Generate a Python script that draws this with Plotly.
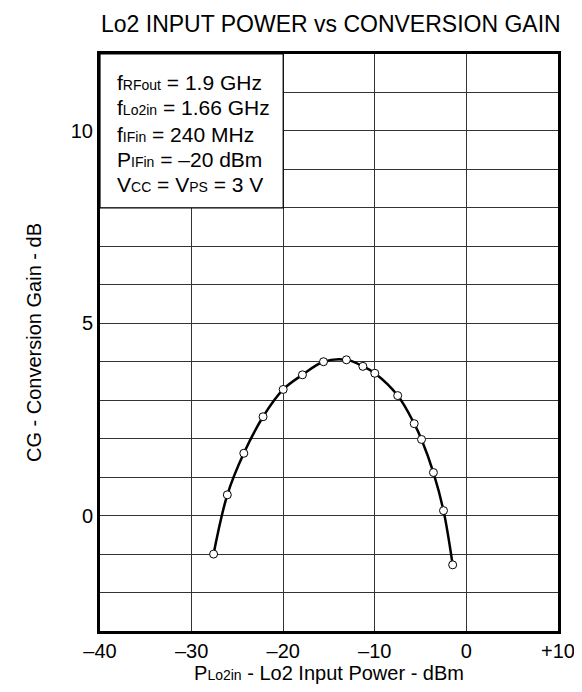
import plotly.graph_objects as go

# ---- data ----
power_dbm = [-27.6, -26.1, -24.3, -22.2, -20.0, -17.9, -15.6, -13.1, -11.3, -10.0,
             -7.5, -5.7, -4.9, -3.6, -2.5, -1.5]
gain_db = [-1.0, 0.54, 1.62, 2.57, 3.28, 3.66, 4.0, 4.05, 3.88, 3.70,
           3.12, 2.39, 1.98, 1.12, 0.13, -1.28]

xtick_vals = [-40, -30, -20, -10, 0, 10]
xtick_text = ["\u201340", "\u201330", "\u201320", "\u201310", "0", "+10"]
ytick_vals = [0, 5, 10]
ytick_text = ["0", "5", "10"]

sub = "<span style='font-size:14px'>{}</span>"
note_lines = [
    "f" + sub.format("RFout") + " = 1.9 GHz",
    "f" + sub.format("Lo2in") + " = 1.66 GHz",
    "f" + sub.format("IFin") + " = 240 MHz",
    "P" + sub.format("IFin") + " = \u201320 dBm",
    "V" + sub.format("CC") + " = V" + sub.format("PS") + " = 3 V",
]
note_y = [11.25, 10.6, 9.92, 9.27, 8.6]

title_text = "Lo2 INPUT POWER vs CONVERSION GAIN"
x_title = "P" + sub.format("Lo2in") + " - Lo2 Input Power - dBm"
y_title = "CG - Conversion Gain - dB"

FONT = "Liberation Sans, Arial, sans-serif"

fig = go.Figure()
fig.add_trace(go.Scatter(
    x=power_dbm, y=gain_db, mode="lines+markers",
    line=dict(color="black", width=2.5, shape="spline", smoothing=1.0),
    marker=dict(size=8, color="white", line=dict(color="black", width=1)),
    showlegend=False, hoverinfo="skip",
))

# annotation box (covers grid in the upper-left cell block)
fig.add_shape(type="rect", xref="x", yref="y", x0=-40, x1=-20, y0=8, y1=12,
              fillcolor="white", line=dict(color="black", width=1.2), layer="above")

for t, yv in zip(note_lines, note_y):
    fig.add_annotation(x=-38.4, y=yv, xref="x", yref="y", text=t, showarrow=False,
                       xanchor="left", yanchor="middle",
                       font=dict(family=FONT, size=21, color="black"))

fig.add_annotation(x=0.505, y=1, xref="paper", yref="paper", yshift=30,
                   text=title_text, showarrow=False, xanchor="center", yanchor="middle",
                   font=dict(family=FONT, size=23, color="black"))

fig.update_layout(
    width=582, height=692,
    margin=dict(l=92, r=32, t=46, b=69),
    paper_bgcolor="white", plot_bgcolor="white",
    font=dict(family=FONT, color="black"),
)
fig.update_xaxes(
    range=[-40, 10], tickvals=xtick_vals, ticktext=xtick_text,
    showgrid=True, gridcolor="#333", gridwidth=1,
    showline=True, linecolor="black", linewidth=3, mirror=True,
    zeroline=False, ticks="", tickfont=dict(size=20),
    title=dict(text=x_title, font=dict(size=20), standoff=5),
)
fig.update_yaxes(
    range=[-3, 12], tickvals=ytick_vals, ticktext=ytick_text,
    showgrid=True, gridcolor="#333", gridwidth=1,
    minor=dict(dtick=1, tick0=0, showgrid=True, gridcolor="#333", gridwidth=1),
    showline=True, linecolor="black", linewidth=3, mirror=True,
    zeroline=False, ticks="", tickfont=dict(size=20),
    title=dict(text=y_title, font=dict(size=20), standoff=24),
)

fig.write_html("out.html")
